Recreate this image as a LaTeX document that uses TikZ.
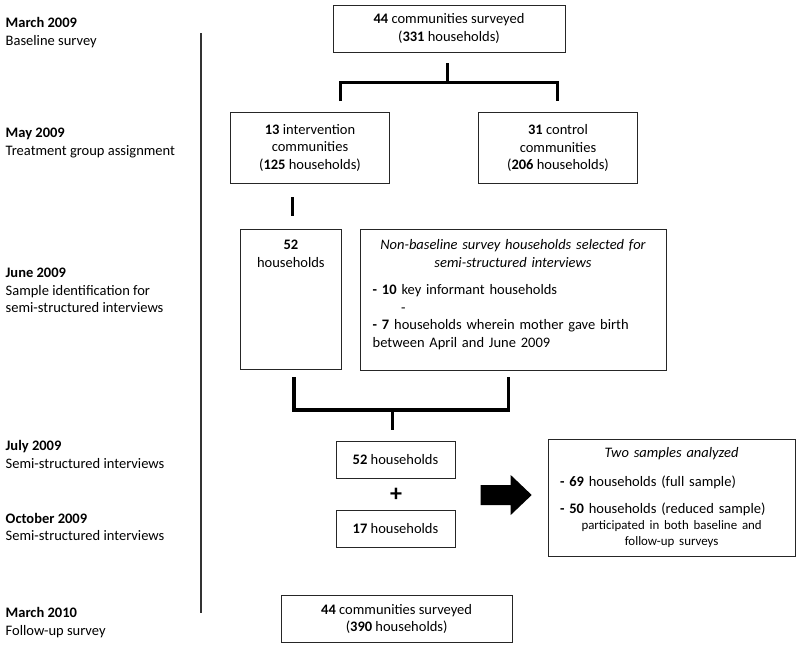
\documentclass[tikz,border=0pt]{standalone}
\usepackage{fontspec}
\setmainfont{Carlito}
\usetikzlibrary{calc}
\begin{document}
\begin{tikzpicture}[x=1pt,y=-1pt,
  every node/.style={font=\fontsize{14.5}{17.5}\selectfont},
  lbl/.style={anchor=base west, inner sep=0pt, align=left},
  box/.style={draw=black!85, line width=1pt, align=center, inner sep=0pt},
  wbox/.style={box, align=left},
  bracket/.style={line width=3.2pt},
  tline/.style={line width=1.2pt, black!80},
  bigarrow/.style={fill=black}]
\useasboundingbox (0,0) rectangle (800,648);

% timeline labels (anchored on the baseline of their last line)
\node[lbl] (l1) at (5.5,45) {\textbf{March 2009}\\Baseline survey};
\node[lbl] (l2) at (5.5,155) {\textbf{May 2009}\\Treatment group assignment};
\node[lbl] (l3) at (5.5,312.7) {\textbf{June 2009}\\Sample identification for\\semi-structured interviews};
\node[lbl] (l4) at (5.5,468) {\textbf{July 2009}\\Semi-structured interviews};
\node[lbl] (l5) at (5.5,540.7) {\textbf{October 2009}\\Semi-structured interviews};
\node[lbl] (l6) at (5.5,635) {\textbf{March 2010}\\Follow-up survey};

\coordinate (tl1) at (201,33);
\coordinate (tl2) at (201,612.7);
\draw[tline] (tl1) -- (tl2);

% boxes
\node[box, minimum width=232pt, minimum height=47pt] (top) at (449,28.5)
  {\textbf{44} communities surveyed\\(\textbf{331} households)};
\node[box, minimum width=158.6pt, minimum height=71pt] (int) at (310,147.8)
  {\textbf{13} intervention\\communities\\(\textbf{125} households)};
\node[box, minimum width=159.4pt, minimum height=71.4pt] (ctl) at (558,148)
  {\textbf{31} control\\communities\\(\textbf{206} households)};
\node[box, minimum width=101.7pt, minimum height=140pt] (h52a) at (290.85,299.3)
  {\textbf{52}\\households\rule[-90.8pt]{0pt}{0pt}};
\node[wbox, text width=280.6pt, minimum width=306pt, minimum height=140.7pt] (nb) at (513,299.65)
  {{\centering\itshape Non-baseline survey households selected for\\semi-structured interviews\par}\vspace{9.8pt}
   \textbf{- 10} key informant households\\
   \hspace*{28.5pt}-\\
   \textbf{- 7} households wherein mother gave birth\\
   between April and June 2009\rule[-12.6pt]{0pt}{0pt}};
\node[box, minimum width=119pt, minimum height=36.6pt] (h52) at (395.5,460)
  {\textbf{52} households};
\node[inner sep=0pt, font=\fontsize{24}{24}\selectfont\bfseries] (plus) at (396,495) {+};
\node[box, minimum width=119pt, minimum height=36.6pt] (h17) at (395.5,529)
  {\textbf{17} households};
\node[wbox, text width=223.3pt, minimum width=246.7pt, minimum height=117pt] (two) at (671.65,497.5)
  {{\centering\itshape Two samples analyzed\par}\vspace{10.9pt}
   \textbf{- 69} households (full sample)\par\vspace{9.8pt}
   \textbf{- 50} households (reduced sample)\par
   {\centering\fontsize{12.9}{16}\selectfont participated in both baseline and\\follow-up surveys\par}};
\node[box, minimum width=231.3pt, minimum height=47.7pt] (bot) at (396.65,618.85)
  {\textbf{44} communities surveyed\\(\textbf{390} households)};

% bracket from top box
\coordinate (s1a) at (447.3,63);
\coordinate (s1b) at (447.3,82.7);
\coordinate (s1l) at (340.7,82.7);
\coordinate (s1ld) at (340.7,101);
\coordinate (s1r) at (557.3,82.7);
\coordinate (s1rd) at (557.3,101);
\draw[bracket] (s1a) -- (s1b);
\draw[bracket] (s1ld) -- (s1l) -- (s1r) -- (s1rd);

% stub below intervention
\coordinate (s2a) at (292.7,197);
\coordinate (s2b) at (292.7,216);
\draw[bracket] (s2a) -- (s2b);

% bracket joining the two samples
\coordinate (s3l) at (294,377);
\coordinate (s3lb) at (294,410);
\coordinate (s3r) at (508.3,377);
\coordinate (s3rb) at (508.3,410);
\coordinate (s3m) at (392.7,410);
\coordinate (s3md) at (392.7,430);
\draw[bracket] (s3l) -- (s3lb) -- (s3rb) -- (s3r);
\draw[bracket] (s3m) -- (s3md);

% block arrow
\fill[bigarrow] (480.7,485) -- (510.7,485) -- (510.7,475) -- (531.7,495)
  -- (510.7,515) -- (510.7,505) -- (480.7,505) -- cycle;
\end{tikzpicture}
\end{document}
